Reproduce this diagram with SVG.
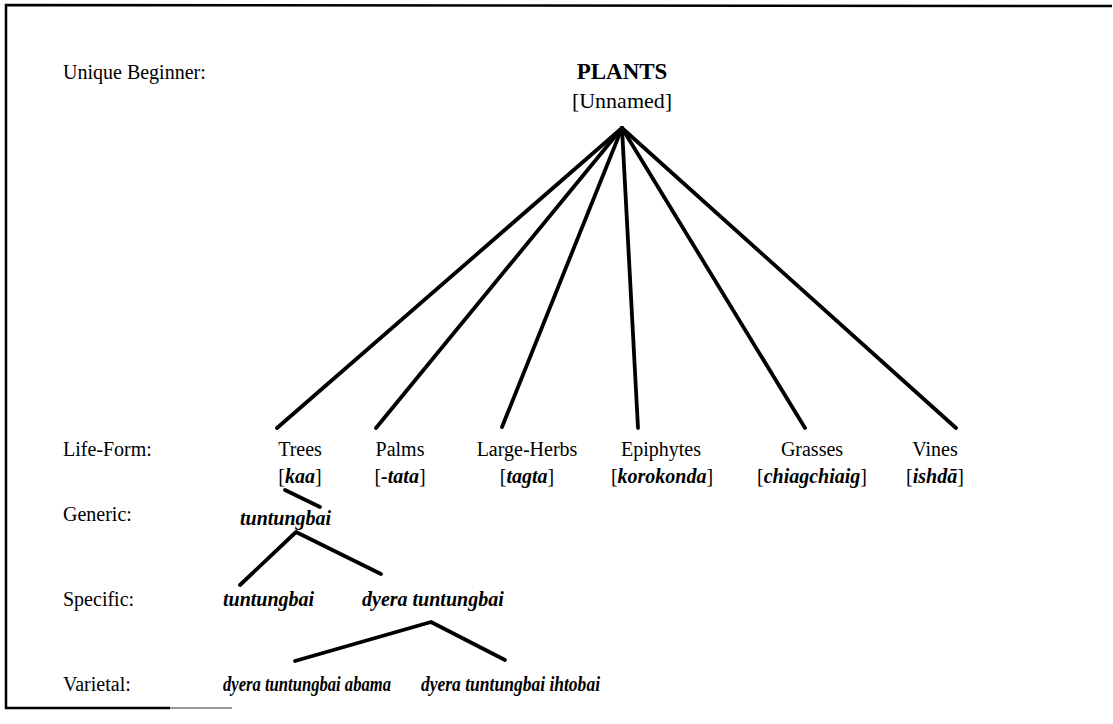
<svg xmlns="http://www.w3.org/2000/svg" width="1113" height="724" viewBox="0 0 1113 724">
<style>
.lbl{font-family:"Liberation Serif","Times New Roman",serif;font-size:20px;fill:#000}
.it{font-family:"Liberation Serif","Times New Roman",serif;font-size:20px;font-style:italic;font-weight:bold;fill:#000}
.c{text-anchor:middle}
.b{font-style:italic;font-weight:bold}
.edge{stroke:#000;stroke-width:3.8;stroke-linecap:round;stroke-linejoin:round;fill:none}
.frame{stroke:#000;stroke-width:2.5;fill:none}
</style>
<rect width="1113" height="724" fill="#fff"/>
<g id="frame">
<polyline class="frame" points="1112,6 6,5 6,708 170,708"/>
<line x1="170" y1="708" x2="232" y2="708" stroke="#999" stroke-width="2"/>
</g>
<g id="level-labels">
<text class="lbl" x="63" y="79">Unique Beginner:</text>
<text class="lbl" x="63" y="456">Life-Form:</text>
<text class="lbl" x="63" y="521">Generic:</text>
<text class="lbl" x="63" y="606">Specific:</text>
<text class="lbl" x="63" y="691">Varietal:</text>
</g>
<g id="connectors">
<line class="edge" x1="622" y1="128" x2="277" y2="428"/>
<line class="edge" x1="622" y1="128" x2="376" y2="428"/>
<line class="edge" x1="622" y1="128" x2="502" y2="427"/>
<line class="edge" x1="622" y1="128" x2="638" y2="428"/>
<line class="edge" x1="622" y1="128" x2="805" y2="428"/>
<line class="edge" x1="622" y1="128" x2="956" y2="428"/>
<line class="edge" x1="285" y1="490" x2="320" y2="507"/>
<polyline class="edge" points="240,585 296,532 381,574"/>
<polyline class="edge" points="295,661 431,622 505,660"/>
</g>
<g id="node-plants">
<text class="lbl c" x="622" y="79" style="font-weight:bold;font-size:23px">PLANTS</text>
<text class="lbl c" x="622" y="108" style="font-size:22px">[Unnamed]</text>
</g>
<g id="node-trees">
<text class="lbl c" x="300" y="456">Trees</text>
<text class="lbl c" x="300" y="483">[<tspan class="b">kaa</tspan>]</text>
</g>
<g id="node-palms">
<text class="lbl c" x="400" y="456">Palms</text>
<text class="lbl c" x="400" y="483">[<tspan class="b">-tata</tspan>]</text>
</g>
<g id="node-large-herbs">
<text class="lbl c" x="527" y="456">Large-Herbs</text>
<text class="lbl c" x="527" y="483">[<tspan class="b">tagta</tspan>]</text>
</g>
<g id="node-epiphytes">
<text class="lbl c" x="661" y="456">Epiphytes</text>
<text class="lbl c" x="662" y="483">[<tspan class="b">korokonda</tspan>]</text>
</g>
<g id="node-grasses">
<text class="lbl c" x="812" y="456">Grasses</text>
<text class="lbl c" x="812" y="483">[<tspan class="b">chiagchiaig</tspan>]</text>
</g>
<g id="node-vines">
<text class="lbl c" x="935" y="456">Vines</text>
<text class="lbl c" x="935" y="483">[<tspan class="b">ishdā</tspan>]</text>
</g>
<g id="node-generic">
<text class="it" x="240" y="525">tuntungbai</text>
</g>
<g id="node-specific-1">
<text class="it" x="223" y="606">tuntungbai</text>
</g>
<g id="node-specific-2">
<text class="it" x="362" y="606">dyera tuntungbai</text>
</g>
<g id="node-varietal-1">
<text class="it" x="223" y="691" textLength="168" lengthAdjust="spacingAndGlyphs">dyera tuntungbai abama</text>
</g>
<g id="node-varietal-2">
<text class="it" x="421" y="691" textLength="179" lengthAdjust="spacingAndGlyphs">dyera tuntungbai ihtobai</text>
</g>
</svg>
